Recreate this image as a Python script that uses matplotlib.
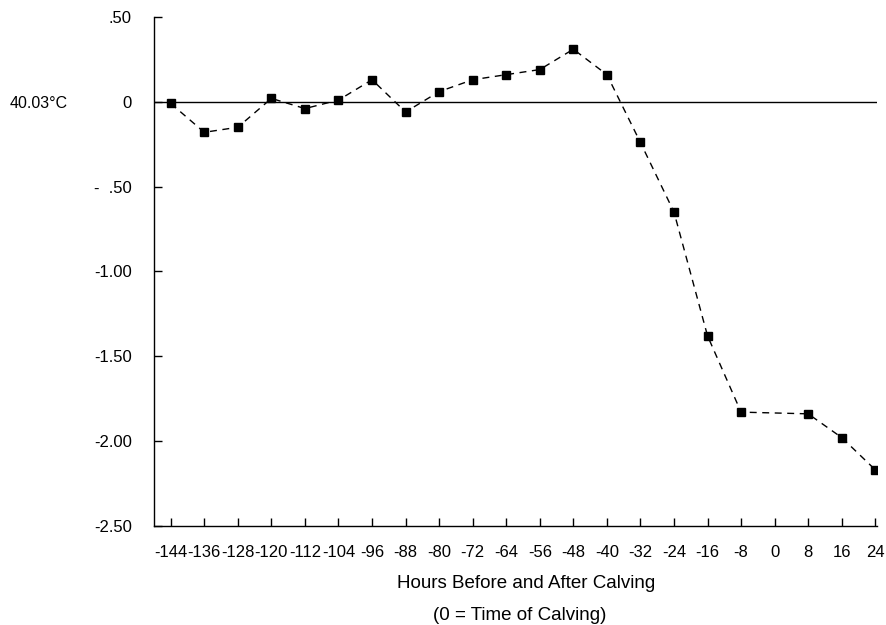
import matplotlib
matplotlib.use("Agg")
import matplotlib.pyplot as plt

plt.rcParams['font.family'] = ['Liberation Sans', 'DejaVu Sans']

# hours relative to calving (no reading at 0)
hours = [-144, -136, -128, -120, -112, -104, -96, -88, -80, -72, -64,
         -56, -48, -40, -32, -24, -16, -8, 8, 16, 24]
# deviation from 40.03 C
temp_dev = [-0.01, -0.18, -0.15, 0.02, -0.04, 0.01, 0.13, -0.06, 0.06, 0.13, 0.16,
            0.19, 0.31, 0.16, -0.24, -0.65, -1.38, -1.83, -1.84, -1.98, -2.17]

xticks = list(range(-144, 25, 8))
yticks = [0.5, 0, -0.5, -1.0, -1.5, -2.0, -2.5]
ytick_labels = ['.50', '0', '-  .50', '-1.00', '-1.50', '-2.00', '-2.50']

fig = plt.figure(figsize=(8.86, 6.25), dpi=100)
ax = fig.add_axes([0.1738, 0.1588, 0.8155, 0.814])

ax.axhline(0, color='black', lw=1.0)
ax.plot(hours, temp_dev, color='black', ls=(0, (5, 4)), lw=1.0,
        marker='s', ms=6, markerfacecolor='black', markeredgecolor='black')

ax.set_xlim(-148, 24.3)
ax.set_ylim(-2.5, 0.5)
ax.set_xticks(xticks)
ax.set_xticklabels([str(h) for h in xticks])
ax.set_yticks(yticks)
ax.set_yticklabels(ytick_labels)

ax.spines['top'].set_visible(False)
ax.spines['right'].set_visible(False)
ax.spines['left'].set_linewidth(1.0)
ax.spines['bottom'].set_linewidth(1.0)
ax.tick_params(axis='x', direction='in', length=6, width=1, pad=14, labelsize=12)
ax.tick_params(axis='y', direction='in', length=6, width=1, pad=16, labelsize=12)

fig.text(10 / 886, 1 - 103 / 625, '40.03\u00b0C', fontsize=11.5, ha='left', va='center')
fig.text(526 / 886, 1 - 583 / 625, 'Hours Before and After Calving',
         fontsize=13.5, ha='center', va='center')
fig.text(520 / 886, 1 - 615 / 625, '(0 = Time of Calving)',
         fontsize=13.5, ha='center', va='center')

fig.savefig('out.png', dpi=100)
